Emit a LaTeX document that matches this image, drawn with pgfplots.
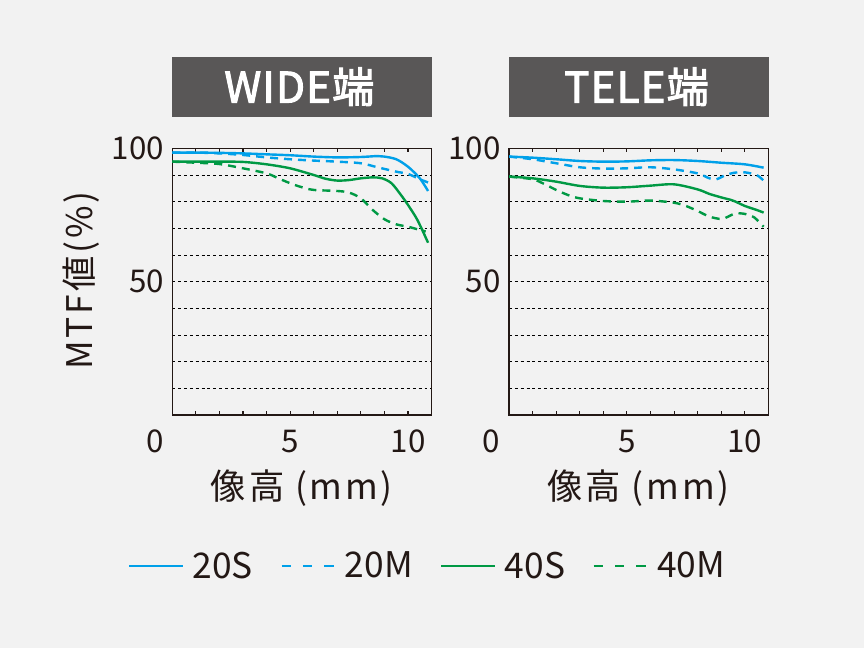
\documentclass[border=0pt]{standalone}
\usepackage{fontspec}
\setmainfont{Noto Sans CJK JP}
\newfontfamily\titlefont[FakeBold=2.5,LetterSpace=3]{Noto Sans CJK JP}
\usepackage{pgfplots}
\pgfplotsset{compat=1.18}
\definecolor{bgcol}{HTML}{F2F2F2}
\definecolor{boxcol}{HTML}{595757}
\definecolor{txt}{HTML}{231815}
\definecolor{cblue}{HTML}{00A0E9}
\definecolor{cgreen}{HTML}{009944}
\pgfplotsset{
 mtf/.style={
  scale only axis, width=194.5pt, height=200pt,
  xmin=0, xmax=11, ymin=0, ymax=100,
  axis line style={draw=txt, line width=1.1pt},
  xtick={0,...,10}, xticklabels={,,,,,5,,,,,10},
  extra x ticks={0}, extra x tick labels={0},
  extra x tick style={major tick length=0pt, xticklabel style={xshift=-13pt}},
  ytick={50,100}, ytick style={draw=none},
  xtick style={draw=txt, line width=0.8pt},
  major tick length=3pt,
  minor ytick={10,20,...,90}, yminorgrids, minor tick length=0pt,
  minor grid style={black, line width=0.7pt, dash pattern=on 2.2pt off 2.2pt},
  /pgf/number format/assume math mode=true,
  ticklabel style={font=\fontsize{23.5}{23.5}\selectfont, text=txt},
  xticklabel style={anchor=center, yshift=-20pt},
  yticklabel style={anchor=east, inner sep=0pt, xshift=-6pt},
  xlabel={像高 (mm)},
  xlabel style={at={(axis description cs:0.5,0)}, anchor=center, yshift=-54.75pt, font=\fontsize{26.5}{26.5}\selectfont\addfontfeature{LetterSpace=8}, text=txt},
 }
}
\begin{document}
\begin{tikzpicture}
\fill[bgcol] (0pt,0pt) rectangle (648pt,486pt);
\fill[boxcol] (129.2pt,398.5pt) rectangle (323.8pt,443.5pt);
\fill[boxcol] (381.75pt,398.5pt) rectangle (577pt,443.5pt);
\node[text=white, font=\titlefont\fontsize{31.5}{31.5}\selectfont] at (224.5pt,421pt) {WIDE端};
\node[text=white, font=\titlefont\fontsize{31.5}{31.5}\selectfont] at (477.4pt,421pt) {TELE端};

\begin{axis}[mtf, at={(129.2pt,174.75pt)}, anchor=south west,
  ylabel={MTF値(\%)},
  ylabel style={at={(axis description cs:-0.35,0.504)}, anchor=center, font=\fontsize{26.5}{26.5}\selectfont\addfontfeature{LetterSpace=8}, text=txt},
  legend style={at={(axis description cs:-0.172,-0.566)}, anchor=west, draw=none, fill=none, inner sep=0pt,
    legend columns=4, font=\fontsize{26.5}{26.5}\selectfont, text=txt,
    /tikz/every odd column/.append style={column sep=6pt},
    /tikz/every even column/.append style={column sep=20.5pt},
    nodes={inner sep=0pt}},
  legend image code/.code={\draw[#1] (0pt,0pt) -- (40.5pt,0pt);}
]
\addlegendimage{cblue, line width=2pt}
\addlegendentry{20S}
\addlegendimage{cblue, line width=2pt, dash pattern=on 7pt off 9pt}
\addlegendentry{20M}
\addlegendimage{cgreen, line width=2pt}
\addlegendentry{40S}
\addlegendimage{cgreen, line width=2pt, dash pattern=on 7pt off 9pt}
\addlegendentry{40M}

% 20S WIDE
\addplot[forget plot, cblue, line width=1.8pt, smooth] coordinates {
(0,98.4) (1,98.4) (2,98.3) (3,98.1) (4,97.75) (5,97.4) (6,96.9) (7,96.6) (8,96.75) (8.7,97.1) (9,96.9) (9.5,95.9) (10,93.1) (10.5,88.75) (10.85,84)};
% 20M WIDE
\addplot[forget plot, cblue, line width=1.8pt, smooth, dash pattern=on 6pt off 4.5pt] coordinates {
(0,98.4) (1,98.4) (2,98.1) (3,97.5) (4,96.6) (5,95.9) (6,95.4) (7,95) (8,94.4) (8.7,92.9) (9.5,91.25) (10,90.4) (10.5,88.4) (10.85,87.2)};
% 40S WIDE
\addplot[forget plot, cgreen, line width=1.8pt, smooth] coordinates {
(0,95) (1,95) (2,95) (3,94.9) (4,94) (5,92.5) (6,90) (6.5,88.6) (7,87.9) (7.5,88.1) (8,88.75) (8.5,89.1) (8.9,88.75) (9.3,86.9) (9.7,82.5) (10,78.75) (10.4,73.1) (10.85,64.6)};
% 40M WIDE
\addplot[forget plot, cgreen, line width=1.8pt, smooth, dash pattern=on 6pt off 4.5pt] coordinates {
(0,95) (1,94.6) (2,94.1) (3,92.5) (4,90.6) (4.5,88.75) (5,86.9) (5.5,85.4) (6,84.4) (7,84) (7.5,83.4) (8,81.25) (8.5,76.9) (9,73.4) (9.5,71.5) (10,70.6) (10.5,69.4) (10.75,68.8)};
\end{axis}

\begin{axis}[mtf, at={(381.75pt,174.75pt)}, anchor=south west]
% 20S TELE
\addplot[cblue, line width=1.8pt, smooth] coordinates {
(0,96.9) (1,96.5) (2,95.9) (3,95.25) (4,95) (5,95.1) (6,95.5) (7,95.6) (8,95.25) (9,94.6) (10,94) (10.8,92.75)};
% 20M TELE
\addplot[cblue, line width=1.8pt, smooth, dash pattern=on 6pt off 4.5pt] coordinates {
(0,96.9) (1,95.9) (2,94.4) (3,92.9) (4,92.4) (5,92.5) (6,92.9) (7,92.1) (8,90.6) (8.5,88.75) (8.8,88.4) (9.2,90) (9.6,90.9) (10,91) (10.5,90) (10.8,87.9)};
% 40S TELE
\addplot[cgreen, line width=1.8pt, smooth] coordinates {
(0,89.4) (1,88.75) (2,87.5) (3,85.9) (4,85.25) (5,85.4) (6,86) (7,86.5) (8,84.6) (8.5,82.9) (9,81.6) (9.5,80.4) (10,78.4) (10.5,76.9) (10.8,75.9)};
% 40M TELE
\addplot[cgreen, line width=1.8pt, smooth, dash pattern=on 6pt off 4.5pt] coordinates {
(0,89.4) (1,88.4) (1.5,86.6) (2,84.4) (2.5,82.5) (3,81.25) (4,80.25) (5,80) (6,80.4) (7,79.6) (7.5,78.4) (8,76.5) (8.5,74.4) (9,73.5) (9.3,74.4) (9.6,75.6) (10,75.4) (10.4,74.1) (10.8,70.6)};
\end{axis}
\end{tikzpicture}
\end{document}
